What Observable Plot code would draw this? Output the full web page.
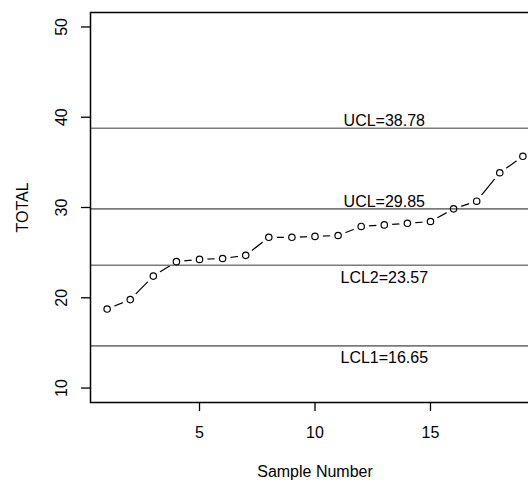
<!DOCTYPE html>
<html>
<head>
<meta charset="utf-8">
<script src="https://cdn.jsdelivr.net/npm/d3@7"></script>
<script src="https://cdn.jsdelivr.net/npm/@observablehq/plot@0.6"></script>
<style>
  html, body { margin: 0; padding: 0; background: #fff; overflow: hidden; width: 528px; height: 480px; }
  #chart svg { display: block; max-width: none !important; }
</style>
</head>
<body>
<div id="chart"></div>
<script>
// Data
const sampleNumbers = [1,2,3,4,5,6,7,8,9,10,11,12,13,14,15,16,17,18,19];
const totals = [18.75,19.8,22.4,24.0,24.25,24.35,24.7,26.7,26.7,26.8,26.9,27.9,28.07,28.25,28.45,29.85,30.7,33.85,35.67];
const limitValues = [38.78, 29.85, 23.6, 14.67];
const limitLabels = ["UCL=38.78", "UCL=29.85", "LCL2=23.57", "LCL1=16.65"];
const labelAbove = [true, true, false, false];
const labelSampleX = 13;
const xTicks = [5, 10, 15];
const yTicks = [10, 20, 30, 40, 50];
const xTitle = "Sample Number";
const yTitle = "TOTAL";

const points = sampleNumbers.map((s, i) => ({sample: s, total: totals[i]}));
const limits = limitValues.map((v, i) => ({value: v, label: limitLabels[i], above: labelAbove[i]}));

const font = "'Liberation Sans', Arial, Helvetica, sans-serif";
const fs = 16;

const chart = Plot.plot({
  width: 560,
  height: 480,
  marginLeft: 90,
  marginRight: 21,
  marginTop: 12,
  marginBottom: 78,
  style: {fontFamily: font, fontSize: fs + "px", background: "#fff", color: "#000"},
  x: {domain: [0.28, 19.72], axis: null, label: null},
  y: {domain: [8.4, 51.6], axis: null, label: null},
  marks: [
    Plot.line(points, {x: "sample", y: "total", stroke: "#000", strokeWidth: 1.2}),
    Plot.dot(points, {x: "sample", y: "total", r: 8, fill: "#fff", stroke: null}),
    Plot.ruleY(limits, {y: "value", stroke: "#7a7a7a", strokeWidth: 1.6}),
    Plot.text(limits.filter(d => d.above), {x: () => labelSampleX, y: "value", text: "label", lineAnchor: "bottom", dy: -2, fill: "#000", fontSize: fs}),
    Plot.text(limits.filter(d => !d.above), {x: () => labelSampleX, y: "value", text: "label", lineAnchor: "top", dy: 6, fill: "#000", fontSize: fs}),
    Plot.dot(points, {x: "sample", y: "total", r: 3.2, fill: "none", stroke: "#000", strokeWidth: 1.2}),
    Plot.axisX({ticks: xTicks, tickSize: 9, tickPadding: 15, strokeWidth: 1.3, stroke: "#000", fontSize: fs, label: null}),
    Plot.axisY({ticks: yTicks, tickSize: 9, tickFormat: () => "", strokeWidth: 1.3, stroke: "#000", label: null}),
    Plot.text(yTicks, {y: d => d, text: d => String(d), frameAnchor: "left", dx: -29, rotate: -90, textAnchor: "middle", lineAnchor: "middle", fill: "#000", fontSize: fs}),
    Plot.text([yTitle], {text: d => d, frameAnchor: "left", dx: -68, rotate: -90, textAnchor: "middle", lineAnchor: "middle", fill: "#000", fontSize: fs}),
    Plot.text([xTitle], {text: d => d, frameAnchor: "bottom", dy: 74, textAnchor: "middle", lineAnchor: "bottom", fill: "#000", fontSize: fs}),
    Plot.frame({stroke: "#000", strokeWidth: 1.5})
  ]
});
chart.style.maxWidth = "none";
document.getElementById("chart").appendChild(chart);
</script>
</body>
</html>
